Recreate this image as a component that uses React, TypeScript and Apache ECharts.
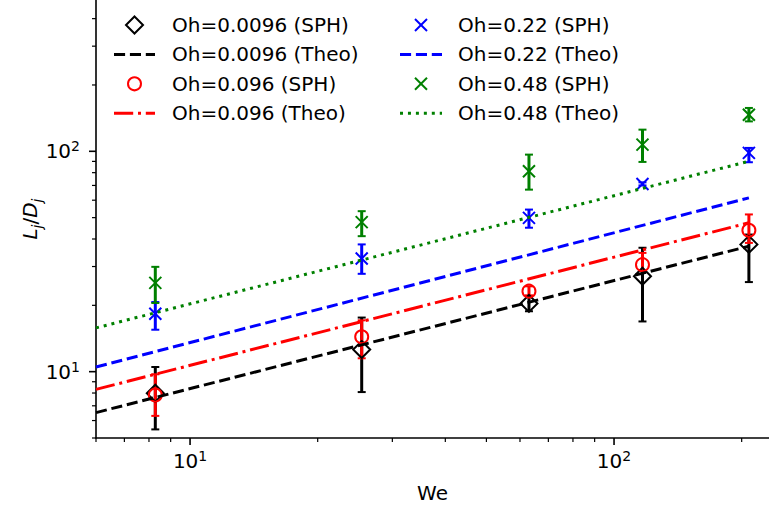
import { useEffect, useRef } from 'react';
import * as echarts from 'echarts';

// ---- data ----
const weValues = [8.28, 25.4, 63.0, 116.7, 208];

const blackY = [7.98, 12.6, 20.4, 27.1, 37.8];
const blackLow = [5.47, 8.08, 18.8, 16.9, 25.5];
const blackHigh = [10.5, 17.6, 22.0, 36.5, 41.9];

const redY = [7.83, 14.4, 23.2, 30.6, 43.8];
const redLow = [6.3, 11.5, 22.2, 28.6, 38.4];
const redHigh = [9.73, 17.1, 24.4, 34.6, 51.7];

const blueY = [18.3, 32.6, 49.9, 71.1, 98.4];
const blueLow = [15.5, 27.8, 45.0, 70.0, 89.2];
const blueHigh = [20.7, 37.8, 54.4, 72.3, 103.6];

const greenY = [25.3, 47.7, 81.2, 107.2, 146.6];
const greenLow = [20.5, 41.2, 67.0, 89.5, 136.7];
const greenHigh = [29.9, 53.5, 96.6, 125.4, 157.3];

const theoWe = [6, 208];
const blackTheo = [6.52, 37.1];
const redTheo = [8.31, 47.4];
const blueTheo = [10.5, 61.5];
const greenTheo = [15.8, 90.1];

const xMajorTicks = [10, 100];
const xMinorTicks = [6, 7, 8, 9, 20, 30, 40, 50, 60, 70, 80, 90, 200];
const yMajorTicks = [10, 100];
const yMinorTicks = [5, 6, 7, 8, 9, 20, 30, 40, 50, 60, 70, 80, 90, 200, 300, 400];

const legendLabels = [
  'Oh=0.0096 (SPH)', 'Oh=0.0096 (Theo)', 'Oh=0.096 (SPH)', 'Oh=0.096 (Theo)',
  'Oh=0.22 (SPH)', 'Oh=0.22 (Theo)', 'Oh=0.48 (SPH)', 'Oh=0.48 (Theo)',
];

const X_MIN = 6;
const X_MAX = 232;
const Y_MIN = 5;
const Y_MAX = 486;

const FONT = 'DejaVu Sans';
const BLACK = '#000000';
const RED = '#ff0000';
const BLUE = '#0000ff';
const GREEN = '#008000';

const DASHED = [11.1, 4.8];
const DASHDOT = [19.2, 4.8, 3, 4.8];
const DOTTED = [3, 4.95];
const X_PATH = 'path://M0,0L12,12M12,0L0,12';

function errSeries(color: string, lo: number[], hi: number[]) {
  return {
    type: 'custom',
    coordinateSystem: 'cartesian2d',
    clip: false,
    silent: true,
    encode: { x: 0, y: [1, 2] },
    data: weValues.map((w, i) => [w, lo[i], hi[i]]),
    renderItem: (_p: any, api: any) => {
      const x = api.value(0);
      const a = api.coord([x, api.value(1)]);
      const b = api.coord([x, api.value(2)]);
      return {
        type: 'group',
        children: [
          { type: 'line', shape: { x1: a[0], y1: a[1], x2: b[0], y2: b[1] }, style: { stroke: color, lineWidth: 3 } },
          { type: 'line', shape: { x1: a[0] - 4, y1: a[1], x2: a[0] + 4, y2: a[1] }, style: { stroke: color, lineWidth: 2 } },
          { type: 'line', shape: { x1: b[0] - 4, y1: b[1], x2: b[0] + 4, y2: b[1] }, style: { stroke: color, lineWidth: 2 } },
        ],
      };
    },
  };
}

function scatterSeries(name: string, color: string, ys: number[], symbol: string, size: number) {
  return {
    name,
    type: 'scatter',
    symbol,
    symbolSize: size,
    data: weValues.map((w, i) => [w, ys[i]]),
    itemStyle: { color: 'rgba(0,0,0,0)', borderColor: color, borderWidth: 2, opacity: 1 },
  };
}

function theoSeries(name: string, color: string, vals: number[], dash: number[]) {
  return {
    name,
    type: 'line',
    symbol: 'none',
    showSymbol: false,
    data: theoWe.map((w, i) => [w, vals[i]]),
    lineStyle: { color, width: 3, type: dash, cap: 'butt' },
  };
}

function tickSeries(values: number[], axis: 'x' | 'y', len: number, width: number) {
  return {
    type: 'custom',
    coordinateSystem: 'cartesian2d',
    clip: false,
    silent: true,
    data: values.map((v) => (axis === 'x' ? [v, Y_MIN] : [X_MIN, v])),
    renderItem: (_p: any, api: any) => {
      const p = api.coord([api.value(0), api.value(1)]);
      const shape = axis === 'x'
        ? { x1: p[0], y1: p[1], x2: p[0], y2: p[1] + len }
        : { x1: p[0], y1: p[1], x2: p[0] - len, y2: p[1] };
      return { type: 'line', shape, style: { stroke: BLACK, lineWidth: width } };
    },
  };
}

function powLabel(v: number) {
  const l = Math.log10(v);
  const r = Math.round(l);
  if (Math.abs(l - r) > 1e-6) return '';
  return '{m|10}{s|' + r + '}';
}

const labelRich = {
  m: { fontFamily: FONT, fontSize: 20, color: BLACK, lineHeight: 24 },
  s: { fontFamily: FONT, fontSize: 14, color: BLACK, lineHeight: 24, verticalAlign: 'top' },
};

function buildLegend() {
  const els: any[] = [];
  const cols = [
    { lineX0: 114, lineX1: 155, textX: 172 },
    { lineX0: 400, lineX1: 442, textX: 458 },
  ];
  const kinds = ['diamond', 'dash', 'circle', 'dashdot', 'x', 'dash', 'x', 'dot'];
  const colors = [BLACK, BLACK, RED, RED, BLUE, BLUE, GREEN, GREEN];
  legendLabels.forEach((label, i) => {
    const col = cols[Math.floor(i / 4)];
    const y = 25 + (i % 4) * 29.4;
    const cx = (col.lineX0 + col.lineX1) / 2;
    const c = colors[i];
    const k = kinds[i];
    if (k === 'diamond') {
      els.push({ type: 'polygon', shape: { points: [[cx, y - 8.5], [cx + 8.5, y], [cx, y + 8.5], [cx - 8.5, y]] }, style: { fill: 'none', stroke: c, lineWidth: 2 } });
    } else if (k === 'circle') {
      els.push({ type: 'circle', shape: { cx, cy: y, r: 6.5 }, style: { fill: 'none', stroke: c, lineWidth: 2 } });
    } else if (k === 'x') {
      els.push({ type: 'line', shape: { x1: cx - 6, y1: y - 6, x2: cx + 6, y2: y + 6 }, style: { stroke: c, lineWidth: 2 } });
      els.push({ type: 'line', shape: { x1: cx - 6, y1: y + 6, x2: cx + 6, y2: y - 6 }, style: { stroke: c, lineWidth: 2 } });
    } else {
      const dash = k === 'dash' ? DASHED : k === 'dashdot' ? DASHDOT : DOTTED;
      els.push({ type: 'line', shape: { x1: col.lineX0, y1: y, x2: col.lineX1, y2: y }, style: { stroke: c, lineWidth: 3, lineDash: dash, lineCap: 'butt' } });
    }
    els.push({
      type: 'text', x: col.textX, y,
      style: { text: label, fill: BLACK, font: '20px "DejaVu Sans"', textAlign: 'left', textVerticalAlign: 'middle' },
    });
  });
  return els;
}

export default function App() {
  const ref = useRef<HTMLDivElement>(null);
  useEffect(() => {
    if (!ref.current) return;
    const chart = echarts.init(ref.current, null, { renderer: 'svg' });
    chart.setOption({
      animation: false,
      backgroundColor: '#ffffff',
      grid: { left: 96, right: 0, top: 0, bottom: 70, containLabel: false },
      xAxis: {
        type: 'log', logBase: 10, min: X_MIN, max: X_MAX,
        name: 'We', nameLocation: 'middle', nameGap: 45,
        nameTextStyle: { fontFamily: FONT, fontSize: 20, color: BLACK },
        axisLine: { lineStyle: { color: BLACK, width: 1.6 } },
        axisTick: { show: false },
        splitLine: { show: false },
        minorTick: { show: false },
        axisLabel: { formatter: powLabel, rich: labelRich, margin: 11, color: BLACK, showMinLabel: false, showMaxLabel: false },
      },
      yAxis: {
        type: 'log', logBase: 10, min: Y_MIN, max: Y_MAX,
        name: '{i|L}{s|j}{n|/}{i|D}{s|j}', nameLocation: 'middle', nameGap: 52, nameRotate: 90,
        nameMoveOverlap: false,
        nameTextStyle: {
          fontFamily: FONT, fontSize: 20, color: BLACK,
          rich: {
            i: { fontFamily: FONT, fontSize: 20, fontStyle: 'italic', color: BLACK, lineHeight: 28 },
            s: { fontFamily: FONT, fontSize: 14, fontStyle: 'italic', color: BLACK, lineHeight: 28, verticalAlign: 'bottom' },
            n: { fontFamily: FONT, fontSize: 20, color: BLACK, lineHeight: 28 },
          },
        },
        axisLine: { lineStyle: { color: BLACK, width: 1.6 } },
        axisTick: { show: false },
        splitLine: { show: false },
        axisLabel: { formatter: powLabel, rich: labelRich, margin: 16, color: BLACK, showMinLabel: false, showMaxLabel: false },
      },
      series: [
        tickSeries(xMajorTicks, 'x', 7, 1.6),
        tickSeries(xMinorTicks, 'x', 4, 1.2),
        tickSeries(yMajorTicks, 'y', 7, 1.6),
        tickSeries(yMinorTicks, 'y', 4, 1.2),
        errSeries(BLACK, blackLow, blackHigh),
        scatterSeries(legendLabels[0], BLACK, blackY, 'diamond', 17),
        theoSeries(legendLabels[1], BLACK, blackTheo, DASHED),
        errSeries(RED, redLow, redHigh),
        scatterSeries(legendLabels[2], RED, redY, 'circle', 13),
        theoSeries(legendLabels[3], RED, redTheo, DASHDOT),
        errSeries(BLUE, blueLow, blueHigh),
        scatterSeries(legendLabels[4], BLUE, blueY, X_PATH, 12),
        theoSeries(legendLabels[5], BLUE, blueTheo, DASHED),
        errSeries(GREEN, greenLow, greenHigh),
        scatterSeries(legendLabels[6], GREEN, greenY, X_PATH, 12),
        theoSeries(legendLabels[7], GREEN, greenTheo, DOTTED),
      ],
      graphic: buildLegend(),
    });
    return () => chart.dispose();
  }, []);
  return <div ref={ref} style={{ width: 769, height: 508, position: 'absolute', left: 0, top: 0 }} />;
}
